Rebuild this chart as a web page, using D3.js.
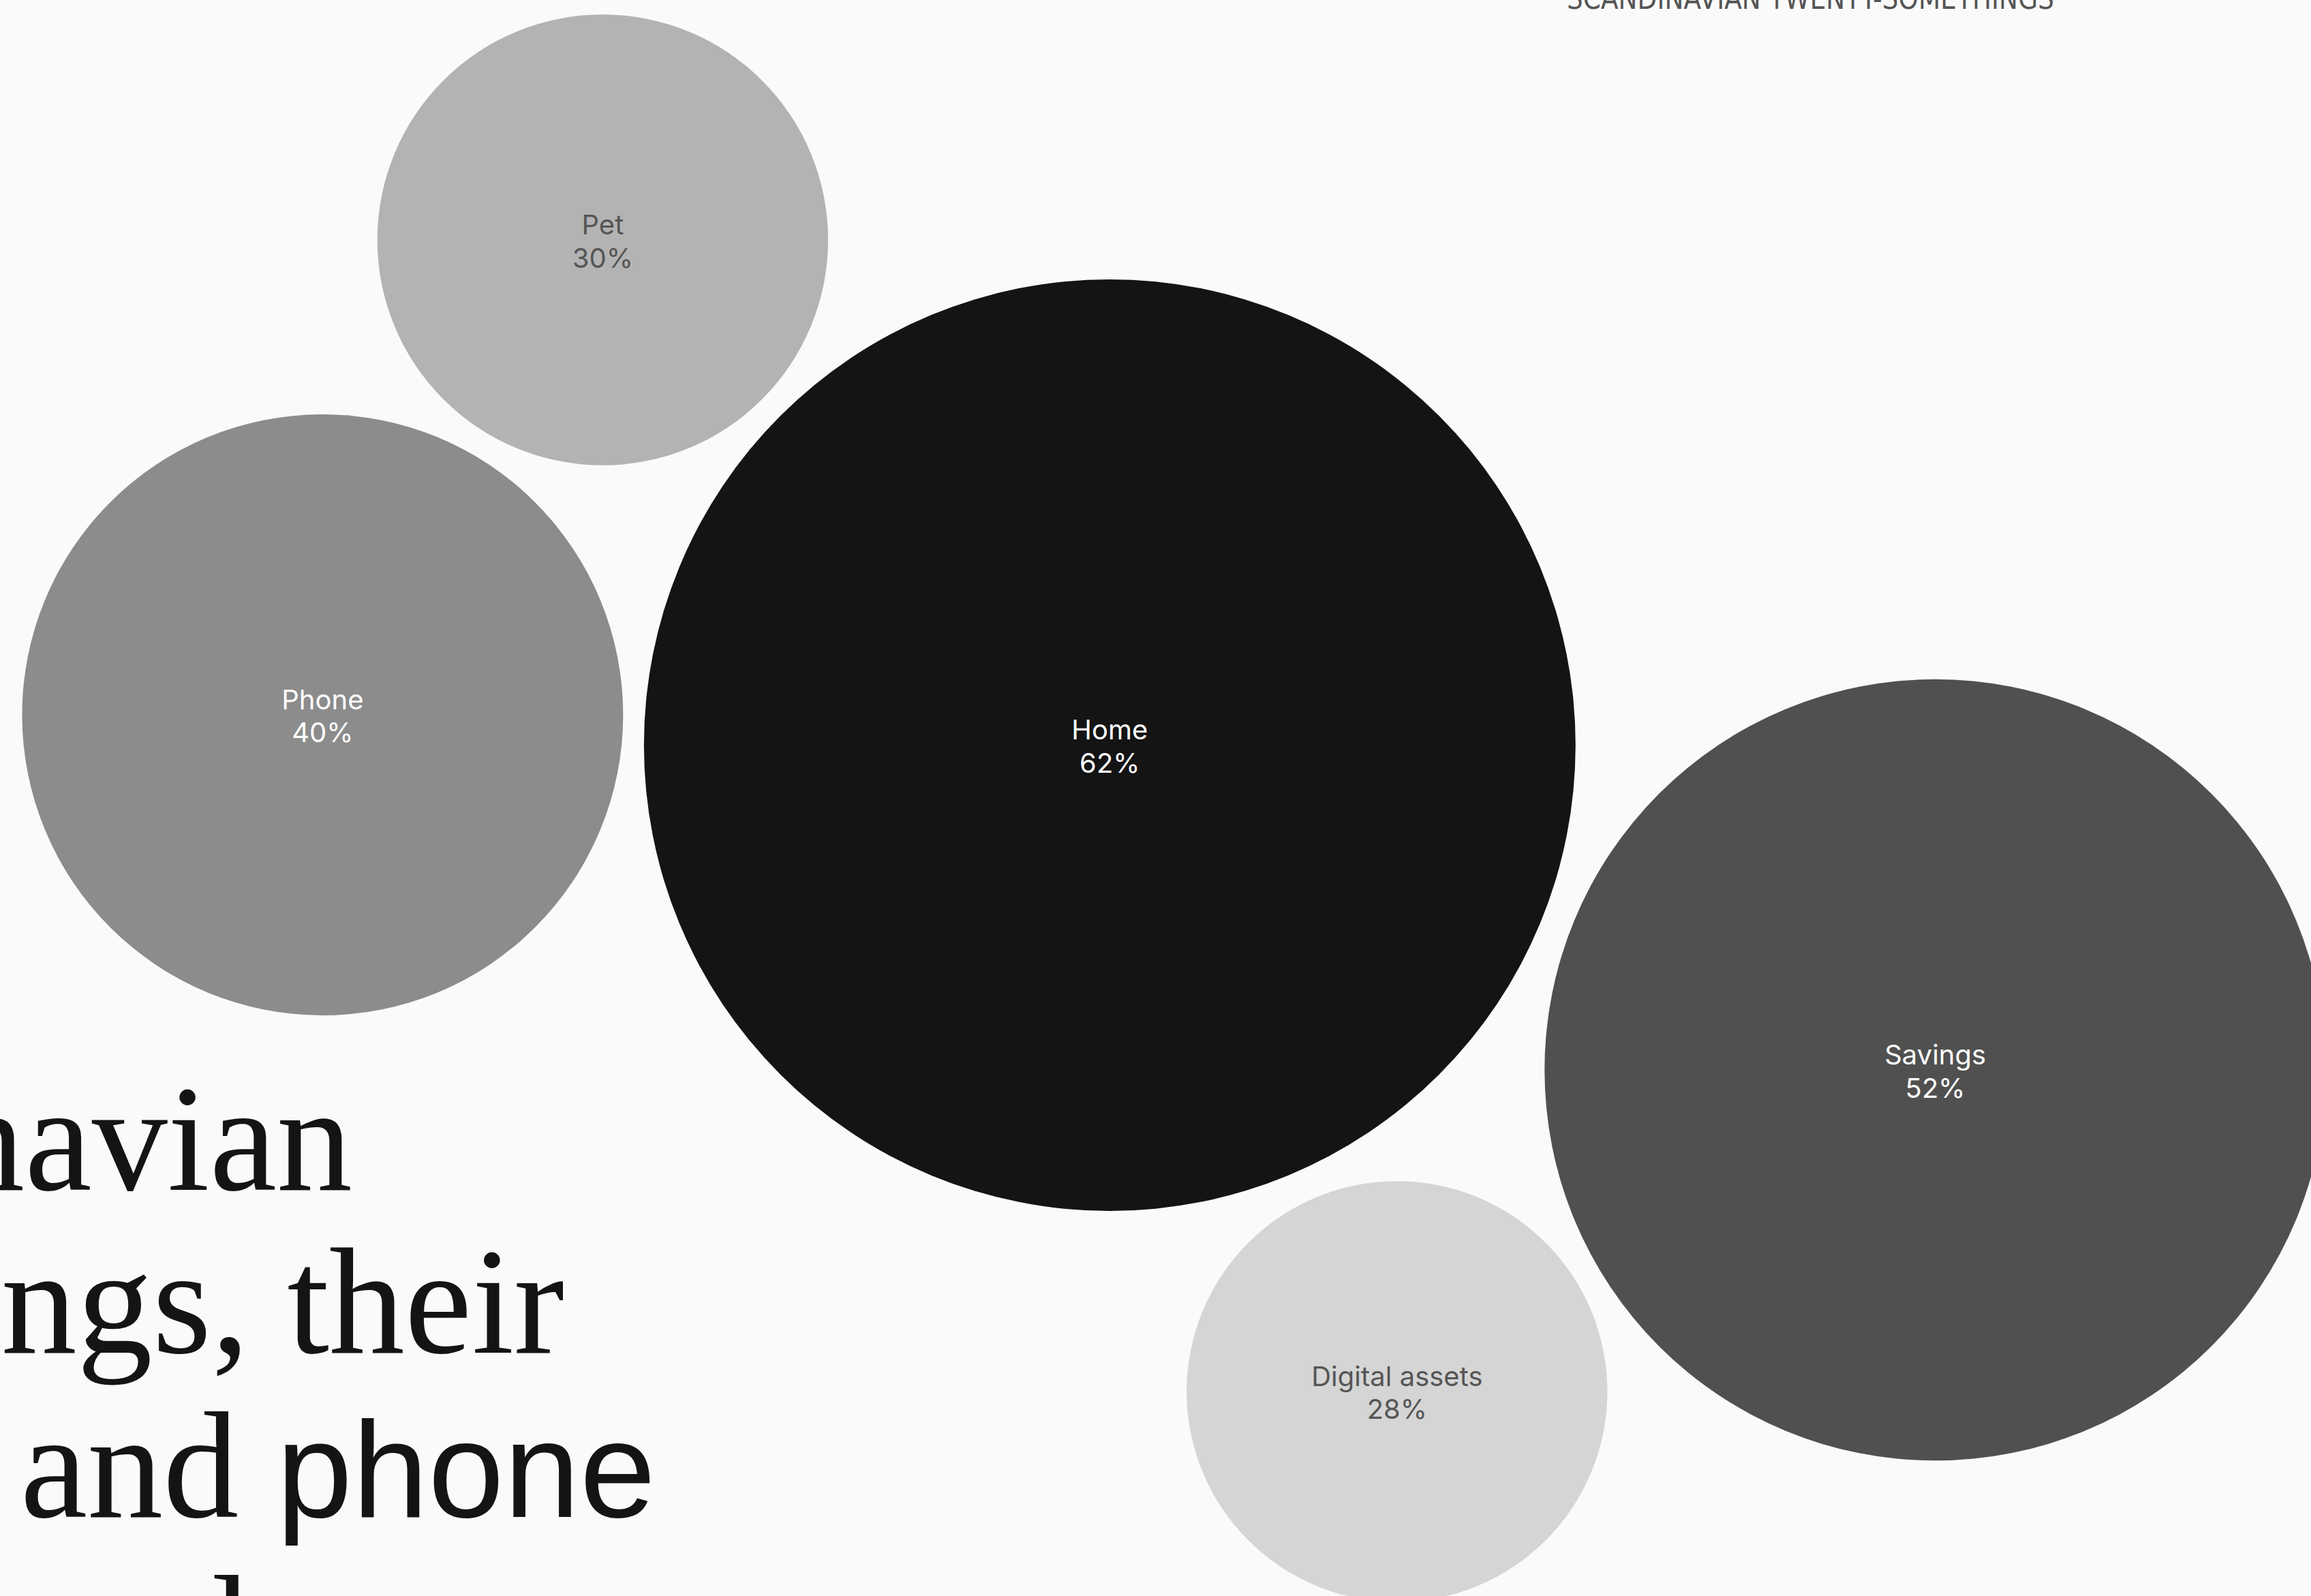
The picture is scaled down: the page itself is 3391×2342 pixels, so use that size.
<!DOCTYPE html>
<html>
<head>
<meta charset="utf-8">
<script src="https://cdn.jsdelivr.net/npm/d3@7"></script>
<style>
  html, body { margin: 0; padding: 0; background: #fafafa; overflow: hidden; }
  svg { display: block; }
  .serif { font-family: "Liberation Serif", "DejaVu Serif", serif; font-size: 222px; }
  .sans { font-family: "Liberation Sans", "DejaVu Sans", sans-serif; font-size: 200px; }
</style>
</head>
<body>
<svg id="chart"></svg>
<script>
// ---- data ----
const categories = ["Home", "Savings", "Phone", "Pet", "Digital assets"];
const values = [62, 52, 40, 30, 28];
const valueLabels = ["62%", "52%", "40%", "30%", "28%"];
// bubble layout (abstract 0–100 layout units)
const layoutX = [48.02, 83.74, 13.96, 26.08, 60.45];
const layoutY = [46.69, 67.04, 44.79, 15.03, 87.19];
// styles
const fills = ["#141414", "#505050", "#8c8c8c", "#b3b3b3", "#d5d5d5"];
const labelColors = ["#ffffff", "#ffffff", "#ffffff", "#555555", "#555555"];
const headerText = "SCANDINAVIAN TWENTY-SOMETHINGS";
const titleLines = [
  [{t: "Scandinavian", serif: true}],
  [{t: "twenty-somethings, their", serif: true}],
  [{t: "homes and\u00a0", serif: true}, {t: "phone", serif: false}],
  [{t: "owned", serif: true}]
];

const W = 3391, H = 2342;
const svg = d3.select("#chart").attr("width", W).attr("height", H);
svg.append("rect").attr("width", W).attr("height", H).attr("fill", "#fafafa");

const x = d3.scaleLinear().domain([0, 100]).range([0, W]);
const y = d3.scaleLinear().domain([0, 100]).range([0, H]);
const r = d3.scaleLinear().domain([0, d3.max(values)]).range([0, 683.5]);

const data = categories.map((c, i) => ({
  cat: c, v: values[i], lab: valueLabels[i], x: layoutX[i], y: layoutY[i],
  fill: fills[i], lc: labelColors[i]
}));

// title (behind bubbles): each part its own text element, laid out right-to-left
const titleEnds = [517, 828, 962, 365];
const titleBase = [1746, 1985, 2226, 2466];
const tg = svg.append("g").attr("fill", "#141414");
titleLines.forEach((parts, i) => {
  let xr = titleEnds[i];
  parts.slice().reverse().forEach(p => {
    const t = tg.append("text")
      .attr("class", p.serif ? "serif" : "sans")
      .attr("x", xr).attr("y", titleBase[i])
      .attr("text-anchor", "end")
      .text(p.t);
    xr -= t.node().getComputedTextLength();
  });
});

// header
svg.append("text")
  .attr("x", 2299).attr("y", 13)
  .style("font-family", "'Liberation Sans Narrow', 'DejaVu Sans Condensed', sans-serif")
  .style("font-size", "44px")
  .attr("fill", "#555555")
  .attr("textLength", 715)
  .attr("lengthAdjust", "spacingAndGlyphs")
  .text(headerText);

// bubbles
const g = svg.append("g");
const node = g.selectAll("g.bubble").data(data).join("g")
  .attr("class", "bubble")
  .attr("transform", d => `translate(${x(d.x)},${y(d.y)})`);

node.append("circle")
  .attr("r", d => r(d.v))
  .attr("fill", d => d.fill);

const lbl = node.append("text")
  .attr("text-anchor", "middle")
  .style("font-family", "Inter, 'Noto Sans', sans-serif")
  .style("font-size", "40px")
  .attr("fill", d => d.lc);
lbl.append("tspan").attr("x", 0).attr("y", -8).text(d => d.cat);
lbl.append("tspan").attr("x", 0).attr("y", 40.5).text(d => d.lab);
</script>
</body>
</html>
